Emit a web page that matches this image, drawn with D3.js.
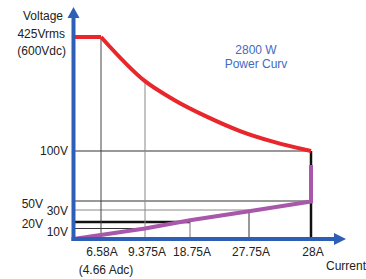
<!DOCTYPE html>
<html>
<head>
<meta charset="utf-8">
<script src="https://cdn.jsdelivr.net/npm/d3@7"></script>
<style>
  body { margin: 0; background: #fff; }
  text { font-family: "Liberation Sans", Arial, sans-serif; font-size: 12px; fill: #222; }
</style>
</head>
<body>
<div id="vi1"></div>
<script>
const width = 366, height = 279;

// tick values and labels
const currentTicks = [6.58, 9.375, 18.75, 27.75, 28];
const currentLabels = ["6.58A", "9.375A", "18.75A", "27.75A", "28A"];
const voltTicks = [100, 50, 30, 20, 10];
const voltLabels = ["100V", "50V", "30V", "20V", "10V"];

// 2800 W power curve (current A, voltage V)
const powerFlat = [[0, 425], [6.58, 425]];
const powerCurve = [[6.58, 425], [9.375, 299], [15.27, 247], [21.3, 198], [26.38, 157], [27.85, 126], [28, 100]];

// purple operating line
const opLine = [[0, 0], [9.375, 10], [18.75, 21.5], [27.75, 29], [28, 49], [28, 86]];

// reference lines
const hLines = [
  { v: 100, to: 28, color: "#333", w: 1 },
  { v: 50, to: 28, color: "#333", w: 1 },
  { v: 30, to: 27.75, color: "#888", w: 1 },
  { v: 10, to: 9.375, color: "#333", w: 1 },
  { v: 20, to: 18.75, color: "#111", w: 2.5 }
];
const vLines = [
  { a: 6.58, to: 425, color: "#444", w: 1 },
  { a: 9.375, to: 299, color: "#888", w: 1 },
  { a: 18.75, to: 20, color: "#777", w: 1 },
  { a: 27.75, to: 30, color: "#333", w: 1 },
  { a: 28, to: 100, color: "#111", w: 2.5 }
];

// the drawing is schematic, so both scales are piecewise linear
const x = d3.scaleLinear()
  .domain([0, 6.58, 9.375, 18.75, 27.75, 28])
  .range([73.5, 101, 145, 190, 249, 311]);
const y = d3.scaleLinear()
  .domain([0, 10, 20, 30, 50, 100, 425])
  .range([239, 228.5, 222, 210, 201, 151, 37]);

const svg = d3.select("#vi1")
  .append("svg")
    .attr("width", width)
    .attr("height", height);

const line = d3.line()
  .x(d => x(d[0]))
  .y(d => y(d[1]));

// reference lines
svg.selectAll("line.hline")
  .data(hLines)
  .join("line")
    .attr("class", "hline")
    .attr("x1", x(0))
    .attr("x2", d => x(d.to))
    .attr("y1", d => y(d.v))
    .attr("y2", d => y(d.v))
    .attr("stroke", d => d.color)
    .attr("stroke-width", d => d.w);

svg.selectAll("line.vline")
  .data(vLines)
  .join("line")
    .attr("class", "vline")
    .attr("x1", d => x(d.a))
    .attr("x2", d => x(d.a))
    .attr("y1", y(0))
    .attr("y2", d => y(d.to))
    .attr("stroke", d => d.color)
    .attr("stroke-width", d => d.w);

// operating line
svg.append("path")
  .attr("d", line(opLine))
  .attr("fill", "none")
  .attr("stroke", "#a857aa")
  .attr("stroke-width", 4);

// power curve
svg.append("path")
  .attr("d", line(powerFlat))
  .attr("fill", "none")
  .attr("stroke", "#e8262b")
  .attr("stroke-width", 4);
svg.append("path")
  .attr("d", line.curve(d3.curveMonotoneX)(powerCurve))
  .attr("fill", "none")
  .attr("stroke", "#e8262b")
  .attr("stroke-width", 4);

// axes with arrow heads
const axisColor = "#2c5fb5";
svg.append("line")
  .attr("x1", x(0)).attr("x2", x(0))
  .attr("y1", y(0) + 2).attr("y2", 16)
  .attr("stroke", axisColor).attr("stroke-width", 4);
svg.append("path")
  .attr("d", `M${x(0)},7 L${x(0) - 6},18 L${x(0) + 6},18 Z`)
  .attr("fill", axisColor);
svg.append("line")
  .attr("x1", x(0) - 2).attr("x2", 336)
  .attr("y1", y(0)).attr("y2", y(0))
  .attr("stroke", axisColor).attr("stroke-width", 4);
svg.append("path")
  .attr("d", `M346,${y(0)} L334,${y(0) - 6} L334,${y(0) + 6} Z`)
  .attr("fill", axisColor);

// x tick labels
svg.selectAll("text.xlabel")
  .data(currentTicks)
  .join("text")
    .attr("class", "xlabel")
    .attr("x", (d, i) => x(d) + (i == 0 ? 1 : 2))
    .attr("y", 256)
    .attr("text-anchor", "middle")
    .text((d, i) => currentLabels[i]);

svg.append("text").attr("x", 106).attr("y", 274).attr("text-anchor", "middle").text("(4.66 Adc)");
svg.append("text").attr("x", 366).attr("y", 270).attr("text-anchor", "end").text("Current");

// y tick labels, staggered like the original
const yLabelX = [68, 43, 68, 43, 68];
const yLabelY = [155, 208, 215, 228, 236];
svg.selectAll("text.ylabel")
  .data(voltTicks)
  .join("text")
    .attr("class", "ylabel")
    .attr("x", (d, i) => yLabelX[i])
    .attr("y", (d, i) => yLabelY[i])
    .attr("text-anchor", "end")
    .text((d, i) => voltLabels[i]);

svg.append("text").attr("x", 63).attr("y", 20).attr("text-anchor", "end").text("Voltage");
svg.append("text").attr("x", 65).attr("y", 38).attr("text-anchor", "end").text("425Vrms");
svg.append("text").attr("x", 66).attr("y", 55).attr("text-anchor", "end").text("(600Vdc)");

// curve label
svg.append("text").attr("x", 256).attr("y", 54).attr("text-anchor", "middle")
  .style("fill", "#3f6cc0").text("2800 W");
svg.append("text").attr("x", 256).attr("y", 68).attr("text-anchor", "middle")
  .style("fill", "#3f6cc0").text("Power Curv");
</script>
</body>
</html>
